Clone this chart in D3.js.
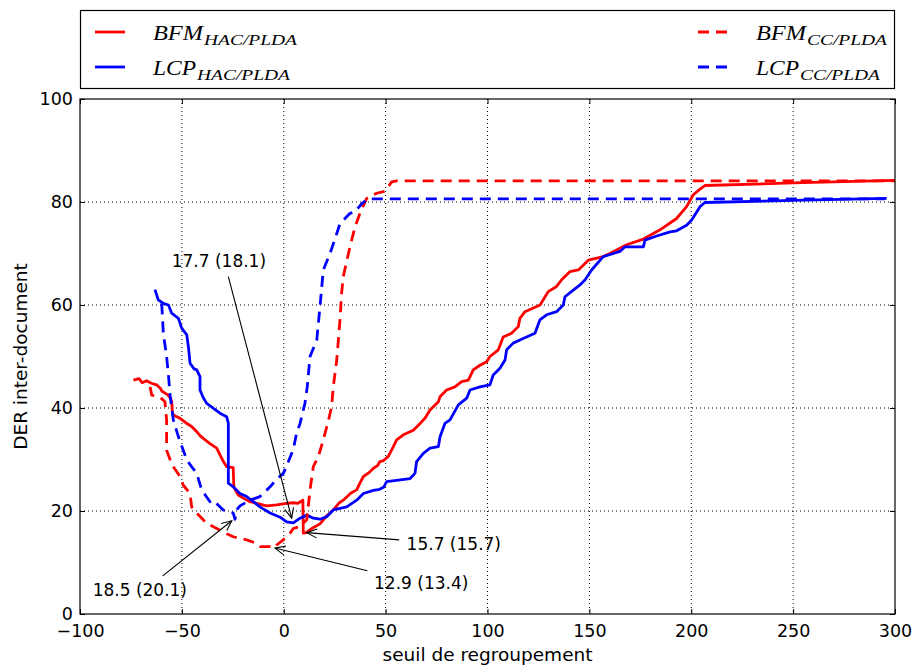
<!DOCTYPE html>
<html>
<head>
<meta charset="utf-8">
<script src="https://cdn.jsdelivr.net/npm/d3@7"></script>
<style>
  body { margin: 0; background: #fff; }
  svg { display: block; }
</style>
</head>
<body>
<div class="chart"></div>
<script>
// Data

const xTicks = [-100, -50, 0, 50, 100, 150, 200, 250, 300];
const yTicks = [0, 20, 40, 60, 80, 100];

const bfmHac = [
  [-73.8, 45.4], [-71, 45.7], [-69.5, 44.9], [-67.3, 45.3], [-65, 44.8], [-62.4, 44.5],
  [-60.5, 43.8], [-59.9, 43.3], [-56.7, 42.5], [-55.5, 41.8], [-55.0, 41.3], [-54.6, 38.8],
  [-53, 38.4], [-50.9, 38.0], [-47.6, 37.0], [-45.2, 36.4], [-42.7, 35.4], [-41, 34.6],
  [-39.5, 34.1], [-36.2, 33.1], [-32.9, 32.2], [-31.3, 30.9], [-29.5, 29.5], [-28.0, 28.6],
  [-24.8, 28.4], [-24.5, 24.6], [-22.3, 23.1], [-19.9, 22.5], [-16.6, 21.8], [-13.3, 21.5],
  [-8.4, 21.0], [-3.5, 21.2], [1.4, 21.5], [4.7, 21.6], [7, 21.5], [9.4, 22.1], [9.6, 15.7],
  [11, 15.8], [13.7, 16.6], [17.8, 17.5], [21, 19], [24.3, 20.2], [27, 21.5], [29.2, 22.1],
  [33, 23.5], [35.8, 24.1], [37.5, 25.5], [39.1, 26.7], [42, 27.5], [44.0, 28.3], [46, 28.8],
  [47.2, 29.6], [49, 29.8], [51.3, 30.6], [53.8, 32.5], [55.4, 33.8], [58.7, 34.8],
  [63.6, 35.7], [66.9, 37.0], [69.3, 38.0], [71.8, 39.6], [75.9, 41.2], [76.7, 42.2],
  [79.9, 43.5], [84.0, 44.1], [87.3, 45.1], [90.6, 45.4], [93.0, 47.4], [96.3, 48.3],
  [99.6, 49.0], [101.2, 50.0], [105.3, 51.3], [107.7, 53.8], [111.8, 54.5], [115.1, 55.8],
  [115.9, 57.4], [118.4, 58.7], [125.8, 60.0], [129.8, 62.6], [133.9, 63.6], [136.4, 64.9],
  [140.5, 66.5], [144.6, 66.8], [149.5, 68.7], [156.8, 69.4], [160.0, 70.0], [165.0, 71.0],
  [168.3, 71.7], [176.5, 72.8], [184.7, 74.6], [192.8, 76.8], [197.7, 79.1], [201.0, 81.4],
  [204.3, 82.5], [206.7, 83.2], [250, 83.7], [300, 84.2]
];

const lcpHac = [
  [-63.2, 63.0], [-62, 61.5], [-61.6, 61.0], [-59.1, 60.3], [-56.6, 60.0], [-55, 58.4],
  [-53, 57.8], [-51.7, 57.4], [-50.1, 55.5], [-47.6, 54.2], [-46.8, 51.9], [-46, 48.7],
  [-44, 47.6], [-42.7, 47.4], [-41.1, 46.1], [-41.1, 43.5], [-39.5, 42], [-37.8, 40.9],
  [-34, 39.8], [-31.3, 39.0], [-28.0, 38.3], [-27.2, 37.0], [-27.2, 25.4], [-24.8, 24.7],
  [-21.5, 23.4], [-18.2, 22.8], [-14.9, 21.8], [-11.7, 20.8], [-6.7, 19.6], [-1.8, 18.8],
  [1.4, 17.9], [4.7, 17.7], [8.0, 18.6], [11.3, 19.2], [14.5, 18.6], [17.8, 18.4],
  [21.1, 18.9], [24.3, 20.2], [30.9, 20.8], [35.8, 22.1], [39.1, 23.4], [44, 24.0],
  [47, 24.2], [49, 24.6], [50.5, 25.7], [62.0, 26.3], [64.4, 27.3], [65.2, 29.6],
  [68.5, 31.2], [71.8, 32.2], [75.9, 32.5], [76.7, 34.4], [79.1, 37.0], [81.6, 37.7],
  [85.7, 40.6], [89.8, 41.9], [91.4, 43.5], [96.3, 44.1], [101.2, 44.5], [102.8, 46.4],
  [106.1, 47.7], [108.6, 49.3], [109.4, 51.3], [112.6, 52.6], [117.5, 53.5], [123.3, 54.5],
  [125.7, 57.1], [129.0, 58.1], [133.9, 58.7], [137.2, 60.0], [138.0, 61.6], [142.1, 62.9],
  [145.4, 63.9], [147.9, 64.9], [151.1, 66.8], [156.8, 69.4], [161.8, 70.0], [165.0, 70.4],
  [167.5, 71.3], [176.5, 71.3], [177.3, 72.6], [183.0, 73.4], [189.6, 74.2], [192.8, 74.4],
  [197.7, 75.5], [200.2, 76.5], [204.3, 79.1], [206.7, 79.9], [250, 80.3], [295.9, 80.7]
];

const bfmCc = [
  [-65.6, 44.1], [-64.8, 42.5], [-60.7, 42.1], [-58.3, 41.2], [-57.5, 37.7], [-57.5, 31.8],
  [-55.8, 30], [-54.2, 28.6], [-50.9, 26.7], [-49.3, 25.0], [-46.0, 23.4], [-45.2, 20.8],
  [-42.7, 19.6], [-37.8, 17.6], [-32.9, 16.6], [-28, 15.6], [-24.8, 15.0], [-18.2, 14.4],
  [-13.3, 13.7], [-11.7, 13.1], [-6.7, 13.1], [-4.3, 12.9], [-3.5, 13.4], [-0.2, 14.4],
  [3.1, 15.7], [4.7, 16.6], [8.0, 17.0], [11.3, 18.3], [12.9, 24.1], [14.5, 28.6],
  [17.0, 30.6], [19.4, 33.8], [21.9, 37.5], [23.5, 40.3], [24.3, 44.1], [26.0, 49.3],
  [27.6, 57.1], [28.4, 62.3], [29.2, 65.5], [32.5, 71.3], [35.0, 75.2], [37.4, 77.8],
  [40.7, 80.7], [45.6, 81.7], [49.7, 82.1], [53.0, 83.9], [55.4, 84.1], [300, 84.1]
];

const lcpCc = [
  [-59.9, 60.3], [-59.1, 54.5], [-57.5, 50.0], [-56.5, 46], [-55.8, 42.5], [-54.2, 37.7],
  [-51.7, 34.4], [-47.6, 29.9], [-45, 28.5], [-42.7, 27.3], [-40.3, 24.1], [-36.2, 21.8],
  [-34.6, 22.1], [-29.7, 20.2], [-24.8, 19.6], [-23.9, 18.4], [-23.1, 20.2], [-21.5, 21.0],
  [-16.6, 22.1], [-11.7, 22.8], [-6.7, 24.7], [-3.5, 26.2], [-0.2, 27.3], [2.2, 29.5],
  [4.7, 32], [6.3, 35.1], [8, 37], [10.4, 40.9], [11.5, 44], [12.9, 50.0], [16.2, 53.2],
  [17.8, 59.7], [19.4, 66.8], [22.7, 70.0], [25.2, 72.9], [27.6, 75.8], [32.5, 77.8],
  [35.0, 78.1], [38.3, 79.7], [41.5, 80.6], [295, 80.6]
];

// annotations: label, arrow tip, arrow tail, text position (data coords)
const annotations = [
  { label: "17.7 (18.1)", tip: [3.9, 18.6], tail: [-27.2, 65.5], text: [-55.0, 67.4] },
  { label: "18.5 (20.1)", tip: [-25.5, 18.1], tail: [-59.4, 7.4], text: [-93.8, 3.4] },
  { label: "15.7 (15.7)", tip: [11.3, 15.8], tail: [56.7, 14.4], text: [60.3, 12.4] },
  { label: "12.9 (13.4)", tip: [-4.3, 12.8], tail: [41.0, 8.4], text: [44.3, 4.9] }
];

// Define measurements

const width = 915;
const height = 665;
const margin = { top: 99, right: 20, bottom: 51, left: 80 };
const w = width - margin.left - margin.right;
const h = height - margin.top - margin.bottom;
const red = "#ff0000";
const blue = "#0000ff";
const tickFont = "'DejaVu Sans', sans-serif";

const series = [
  { data: bfmHac, color: red, dash: null },
  { data: lcpHac, color: blue, dash: null },
  { data: bfmCc, color: red, dash: "11,7" },
  { data: lcpCc, color: blue, dash: "11,7" }
];

const svg = d3
  .select(".chart")
  .append("svg")
  .attr("width", width)
  .attr("height", height);

const g = svg.append("g").attr("transform", `translate(${margin.left}, ${margin.top})`);

// Scales

const xScale = d3.scaleLinear().domain([-100, 300]).range([0, w]);
const yScale = d3.scaleLinear().domain([0, 100]).range([h, 0]);

// Grid

g.append("g")
  .selectAll("line")
  .data(xTicks.slice(1, -1))
  .enter()
  .append("line")
  .attr("x1", (d) => xScale(d))
  .attr("x2", (d) => xScale(d))
  .attr("y1", 0)
  .attr("y2", h)
  .attr("stroke", "#000")
  .attr("stroke-dasharray", "1,3");

g.append("g")
  .selectAll("line")
  .data(yTicks.slice(1, -1))
  .enter()
  .append("line")
  .attr("x1", 0)
  .attr("x2", w)
  .attr("y1", (d) => yScale(d))
  .attr("y2", (d) => yScale(d))
  .attr("stroke", "#000")
  .attr("stroke-dasharray", "1,3");

// Curves

g.append("defs")
  .append("clipPath")
  .attr("id", "clip")
  .append("rect")
  .attr("width", w)
  .attr("height", h);

const line = d3
  .line()
  .x((d) => xScale(d[0]))
  .y((d) => yScale(d[1]));

g.append("g")
  .attr("clip-path", "url(#clip)")
  .selectAll("path")
  .data(series)
  .enter()
  .append("path")
  .attr("d", (d) => line(d.data))
  .attr("fill", "none")
  .attr("stroke", (d) => d.color)
  .attr("stroke-width", 2.8)
  .attr("stroke-linejoin", "round")
  .attr("stroke-dasharray", (d) => d.dash);

// Axes (ticks inward on all sides)

const tickLen = 5;
const xAxis = g.append("g").attr("transform", `translate(0, ${h})`)
  .call(d3.axisBottom(xScale).tickValues(xTicks).tickSizeInner(-tickLen).tickSizeOuter(0).tickPadding(11));
const xTop = g.append("g")
  .call(d3.axisTop(xScale).tickValues(xTicks).tickSizeInner(-tickLen).tickSizeOuter(0).tickFormat(""));
const yAxis = g.append("g")
  .call(d3.axisLeft(yScale).tickValues(yTicks).tickSizeInner(-tickLen).tickSizeOuter(0).tickPadding(7));
const yRight = g.append("g").attr("transform", `translate(${w}, 0)`)
  .call(d3.axisRight(yScale).tickValues(yTicks).tickSizeInner(-tickLen).tickSizeOuter(0).tickFormat(""));

[xAxis, xTop, yAxis, yRight].forEach((a) => {
  a.select(".domain").remove();
  a.selectAll("line").attr("stroke", "#000");
  a.selectAll("text")
    .attr("fill", "#000")
    .style("font-family", tickFont)
    .style("font-size", "17.5px");
});

g.append("rect")
  .attr("width", w)
  .attr("height", h)
  .attr("fill", "none")
  .attr("stroke", "#000")
  .attr("stroke-width", 1.2);

// Axis labels

svg.append("text")
  .attr("x", margin.left + w / 2)
  .attr("y", 661)
  .attr("text-anchor", "middle")
  .style("font-family", tickFont)
  .style("font-size", "18.5px")
  .text("seuil de regroupement");

svg.append("text")
  .attr("transform", `translate(27, ${margin.top + h / 2}) rotate(-90)`)
  .attr("text-anchor", "middle")
  .style("font-family", tickFont)
  .style("font-size", "18.5px")
  .text("DER inter-document");

// Annotations

const ann = g.append("g");

annotations.forEach((a) => {
  const x1 = xScale(a.tail[0]);
  const y1 = yScale(a.tail[1]);
  const x2 = xScale(a.tip[0]);
  const y2 = yScale(a.tip[1]);
  const ang = Math.atan2(y2 - y1, x2 - x1);
  const head = 11;
  const spread = 0.42;

  ann.append("line")
    .attr("x1", x1).attr("y1", y1).attr("x2", x2).attr("y2", y2)
    .attr("stroke", "#000").attr("stroke-width", 1.1);

  ann.append("path")
    .attr("d", `M${x2 - head * Math.cos(ang - spread)},${y2 - head * Math.sin(ang - spread)}` +
      `L${x2},${y2}L${x2 - head * Math.cos(ang + spread)},${y2 - head * Math.sin(ang + spread)}`)
    .attr("fill", "none").attr("stroke", "#000").attr("stroke-width", 1.1);

  ann.append("text")
    .attr("x", xScale(a.text[0]))
    .attr("y", yScale(a.text[1]))
    .style("font-family", tickFont)
    .style("font-size", "17px")
    .text(a.label);
});

// Legend

const legend = svg.append("g");

legend.append("rect")
  .attr("x", 80.5)
  .attr("y", 10.5)
  .attr("width", 814)
  .attr("height", 78)
  .attr("fill", "#fff")
  .attr("stroke", "#000")
  .attr("stroke-width", 1.2);

const legendData = [
  { main: "BFM", sub: "HAC/PLDA", color: red, dash: null, x: 95, y: 32, mainW: 50, subW: 93 },
  { main: "LCP", sub: "HAC/PLDA", color: blue, dash: null, x: 95, y: 67, mainW: 43, subW: 93 },
  { main: "BFM", sub: "CC/PLDA", color: red, dash: "11,7", x: 698, y: 32, mainW: 50, subW: 80 },
  { main: "LCP", sub: "CC/PLDA", color: blue, dash: "11,7", x: 698, y: 67, mainW: 43, subW: 80 }
];

legendData.forEach((d) => {
  legend.append("line")
    .attr("x1", d.x).attr("x2", d.x + 30)
    .attr("y1", d.y).attr("y2", d.y)
    .attr("stroke", d.color)
    .attr("stroke-width", 2.8)
    .attr("stroke-dasharray", d.dash);

  const tx = d.x + 58;
  legend.append("text")
    .attr("x", tx)
    .attr("y", d.y + 8)
    .attr("textLength", d.mainW)
    .attr("lengthAdjust", "spacingAndGlyphs")
    .style("font-family", "'Liberation Serif', serif")
    .style("font-style", "italic")
    .style("font-size", "22px")
    .text(d.main);

  legend.append("text")
    .attr("x", tx + d.mainW + 1)
    .attr("y", d.y + 13)
    .attr("textLength", d.subW)
    .attr("lengthAdjust", "spacingAndGlyphs")
    .style("font-family", "'Liberation Serif', serif")
    .style("font-style", "italic")
    .style("font-size", "15.5px")
    .text(d.sub);
});
</script>
</body>
</html>
